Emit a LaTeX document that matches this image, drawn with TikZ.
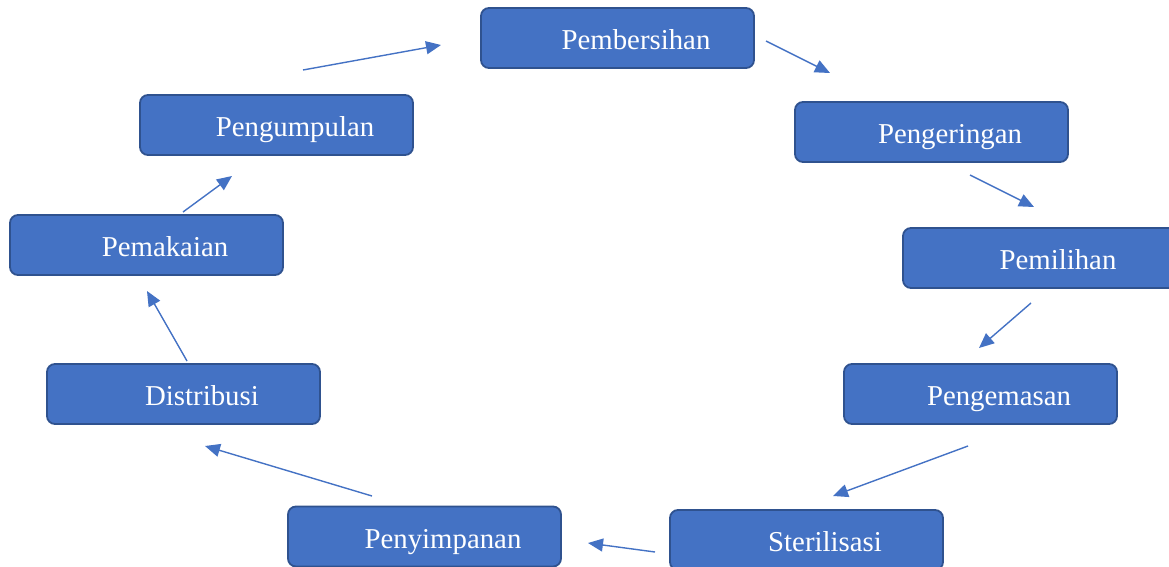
\documentclass[tikz,border=0pt]{standalone}
\usepackage{fontspec}
\setmainfont{Liberation Serif}
\usetikzlibrary{arrows.meta}
\definecolor{boxblue}{HTML}{4472C4}
\definecolor{boxedge}{HTML}{2F528F}

\begin{document}
\begin{tikzpicture}[x=1pt, y=-1pt,
	stage/.style={draw=boxedge, line width=1.8pt, fill=boxblue, rounded corners=8pt,
		minimum width=273pt, minimum height=60pt, text=white,
		text height=26pt, text depth=3pt,
		font=\fontsize{28.8}{34}\selectfont},
	flow/.style={draw=boxblue, line width=1.4pt, -{Triangle[length=15pt,width=13pt]}}]
  \useasboundingbox (0,0) rectangle (1169,567);

  % the stages
  \node[stage] (bersih)  at (617.5,38)   {\hspace*{37pt}Pembersihan};
  \node[stage] (kering)  at (931.5,132)  {\hspace*{37pt}Pengeringan};
  \node[stage] (pilih)   at (1039.5,258) {\hspace*{37pt}Pemilihan};
  \node[stage] (kemas)   at (980.5,394)  {\hspace*{37pt}Pengemasan};
  \node[stage] (steril)  at (806.5,540)  {\hspace*{37pt}Sterilisasi};
  \node[stage] (simpan)  at (424.5,536.5) {\hspace*{37pt}Penyimpanan};
  \node[stage] (distrib) at (183.5,394)  {\hspace*{37pt}Distribusi};
  \node[stage] (pakai)   at (146.5,245)  {\hspace*{37pt}Pemakaian};
  \node[stage] (kumpul)  at (276.5,125)  {\hspace*{37pt}Pengumpulan};

  % arrow ends
  \coordinate (kumpul-out)  at (303,70);   \coordinate (bersih-in)  at (441,45);
  \coordinate (bersih-out)  at (766,41);   \coordinate (kering-in)  at (830,73);
  \coordinate (kering-out)  at (970,175);  \coordinate (pilih-in)   at (1034,207);
  \coordinate (pilih-out)   at (1031,303); \coordinate (kemas-in)   at (979,348);
  \coordinate (kemas-out)   at (968,446);  \coordinate (steril-in)  at (833,496);
  \coordinate (steril-out)  at (655,552);  \coordinate (simpan-in)  at (588,543);
  \coordinate (simpan-out)  at (372,496);  \coordinate (distrib-in) at (205,446);
  \coordinate (distrib-out) at (187,361);  \coordinate (pakai-in)   at (147,291);
  \coordinate (pakai-out)   at (183,212);  \coordinate (kumpul-in)  at (232,176);

  % the cycle
  \draw[flow] (kumpul-out) -- (bersih-in);
  \draw[flow] (bersih-out) -- (kering-in);
  \draw[flow] (kering-out) -- (pilih-in);
  \draw[flow] (pilih-out) -- (kemas-in);
  \draw[flow] (kemas-out) -- (steril-in);
  \draw[flow] (steril-out) -- (simpan-in);
  \draw[flow] (simpan-out) -- (distrib-in);
  \draw[flow] (distrib-out) -- (pakai-in);
  \draw[flow] (pakai-out) -- (kumpul-in);
\end{tikzpicture}
\end{document}
